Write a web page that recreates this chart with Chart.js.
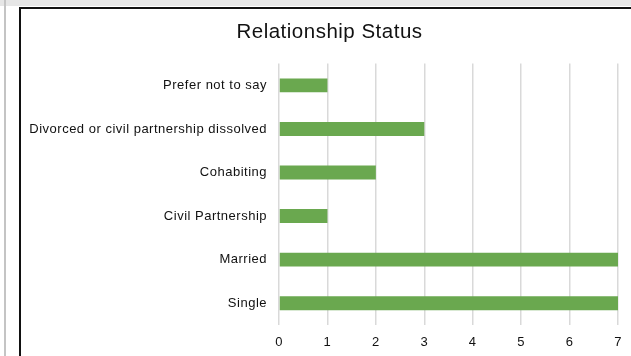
<!DOCTYPE html>
<html>
<head>
<meta charset="utf-8">
<script src="https://cdn.jsdelivr.net/npm/chart.js@4/dist/chart.umd.min.js"></script>
<style>
  html, body { margin: 0; padding: 0; background: #fff; }
  body { width: 631px; height: 356px; position: relative; overflow: hidden; }
  .band { position: absolute; left: 0; top: 0; width: 631px; height: 6px; background: #e6e6e6; }
  .gutter { position: absolute; left: 4px; top: 0; width: 2px; height: 356px; background: #c4c4c4; }
  .frame { position: absolute; left: 19px; top: 7px; width: 640px; height: 400px;
           border-left: 2px solid #111; border-top: 2px solid #111; box-sizing: border-box; }
  #wrap { position: absolute; left: 21px; top: 9px; width: 630px; height: 347px; }
</style>
</head>
<body>
<div class="band"></div>
<div class="gutter"></div>
<div class="frame"></div>
<div id="wrap"><canvas id="c"></canvas></div>
<script>
const categories = [
  "Prefer not to say",
  "Divorced or civil partnership dissolved",
  "Cohabiting",
  "Civil Partnership",
  "Married",
  "Single"
];
const counts = [1, 3, 2, 1, 7, 7];
const xTicks = [0, 1, 2, 3, 4, 5, 6, 7];
const chartTitle = "Relationship Status";

const FONT = "'Liberation Sans', Arial, Helvetica, sans-serif";

// Slightly open tracking for all canvas text.
const textSpacing = {
  id: "textSpacing",
  beforeInit(chart) { chart.ctx.letterSpacing = "0.5px"; },
  beforeLayout(chart) { chart.ctx.letterSpacing = "0.5px"; },
  beforeDraw(chart) { chart.ctx.letterSpacing = "0.5px"; }
};

// Nudge the title block so it is centred over the whole card.
const titleShift = {
  id: "titleShift",
  afterLayout(chart) {
    if (chart.titleBlock) chart.titleBlock.left += 20;
  }
};

new Chart(document.getElementById("c"), {
  type: "bar",
  plugins: [textSpacing, titleShift],
  data: {
    labels: categories,
    datasets: [{
      data: counts,
      backgroundColor: "#6aa84f",
      borderWidth: 0,
      barPercentage: 0.64,
      categoryPercentage: 0.5
    }]
  },
  options: {
    indexAxis: "y",
    responsive: true,
    maintainAspectRatio: false,
    animation: false,
    layout: { padding: { left: 0, right: 33, top: 0, bottom: 0 } },
    plugins: {
      legend: { display: false },
      tooltip: { enabled: false },
      title: {
        display: true,
        text: chartTitle,
        color: "#111",
        font: { family: FONT, size: 20.5, weight: "normal" },
        padding: { top: 11, bottom: 19 }
      }
    },
    scales: {
      x: {
        min: 0,
        max: 7,
        afterBuildTicks: (axis) => { axis.ticks = xTicks.map(v => ({ value: v })); },
        grid: { color: "#d9d9d9", lineWidth: 1.5, drawTicks: false },
        border: { display: false },
        ticks: {
          color: "#111",
          font: { family: FONT, size: 13 },
          padding: 10
        },
        afterFit: (axis) => { axis.height = 31; }
      },
      y: {
        grid: { display: false, drawTicks: false },
        border: { display: false },
        ticks: {
          color: "#111",
          font: { family: FONT, size: 13 },
          padding: 12
        },
        afterFit: (axis) => { axis.width = 258; }
      }
    }
  }
});
</script>
</body>
</html>
